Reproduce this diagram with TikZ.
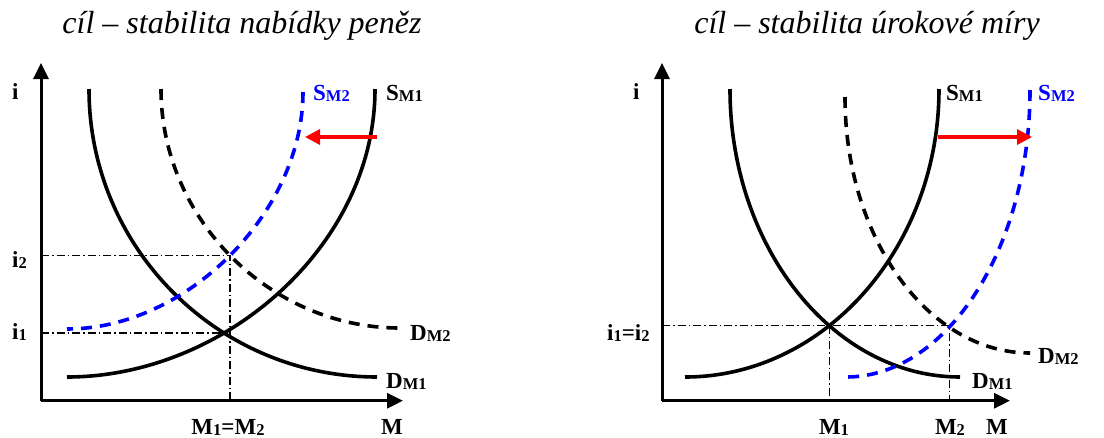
\documentclass[tikz,border=0pt]{standalone}
\usepackage{fontspec}
\setmainfont{Liberation Serif}
\usetikzlibrary{arrows.meta,intersections}
\newcommand\lbl[2]{\fontsize{23}{23}\selectfont\bfseries #1\raisebox{-1.5pt}{\fontsize{16.5}{16.5}\selectfont #2}}
\tikzset{
  axis/.style={line width=3pt,-{Triangle[length=16pt,width=15pt]}},
  solidc/.style={line width=3.6pt},
  dashc/.style={line width=3.6pt,dash pattern=on 11pt off 8pt},
  bluec/.style={line width=3.6pt,dash pattern=on 11pt off 8pt,blue},
  guide/.style={line width=1.1pt,dash pattern=on 8pt off 3pt on 1.5pt off 3pt},
  redarrow/.style={line width=3.4pt,red,-{Triangle[length=15pt,width=15pt]}},
  lab/.style={inner sep=0pt,anchor=base west},
  labc/.style={inner sep=0pt,anchor=base},
  ttl/.style={inner sep=0pt,anchor=base,font=\fontsize{32}{32}\selectfont\itshape}
}
\begin{document}
\begin{tikzpicture}[x=1pt,y=-1pt]
\useasboundingbox (0,0) rectangle (1104,437);
% titles
\node[ttl] (t1) at (242,33) {cíl – stabilita nabídky peněz};
\node[ttl] (t2) at (867,33) {cíl – stabilita úrokové míry};
% ===== left panel =====
\coordinate (o1) at (41,400.7);
\coordinate (yt1) at (41,63);
\coordinate (xt1) at (403,400.7);
\path[name path=lS1] (67,377) .. controls (224,377) and (375,246) .. (375,89);
\path[name path=lD1] (89,89) .. controls (89,248) and (218,377) .. (377,377);
\path[name path=lD2] (161,89) .. controls (161,219) and (270,328) .. (400,328);
\path[name path=lS2] (67,329) .. controls (187,329) and (303,212) .. (303,92);
\path[name intersections={of=lS1 and lD1}] coordinate (L1) at (intersection-1);
\path[name intersections={of=lS2 and lD2}] coordinate (L2) at (intersection-1);
\draw[guide] (o1 |- L2) -- (L2) -- (L2 |- o1);
\draw[guide] (o1 |- L1) -- (L1);
\draw[solidc] (67,377) .. controls (224,377) and (375,246) .. (375,89);
\draw[solidc] (89,89) .. controls (89,248) and (218,377) .. (377,377);
\draw[dashc] (161,89) .. controls (161,219) and (270,328) .. (400,328);
\draw[bluec] (303,92) .. controls (303,212) and (187,329) .. (67,329);
\draw[axis] (o1) -- (yt1);
\draw[axis] (o1) -- (xt1);
\coordinate (ra1) at (377,137);
\coordinate (rb1) at (305,137);
\draw[redarrow] (ra1) -- (rb1);
\node[lab] (li) at (12,99) {\lbl{i}{}};
\node[lab] (li2) at (12,267) {\lbl{i}{2}};
\node[lab] (li1) at (12,339) {\lbl{i}{1}};
\node[lab] (ls1) at (386,100) {\lbl{S}{M1}};
\node[lab,blue] (ls2) at (313,100) {\lbl{S}{M2}};
\node[lab] (ld2) at (410,340) {\lbl{D}{M2}};
\node[lab] (ld1) at (386,388) {\lbl{D}{M1}};
\node[labc] (lm12) at (228,434) {\lbl{M}{1}\lbl{=M}{2}};
\node[labc] (lm) at (392,434) {\lbl{M}{}};
% ===== right panel =====
\coordinate (o2) at (662,400.7);
\coordinate (yt2) at (662,63);
\coordinate (xt2) at (1010,400.7);
\path[name path=rD1] (730,89) .. controls (730,247) and (833,377) .. (960,377);
\path[name path=rS1] (685,377) .. controls (825,377) and (939,247) .. (939,89);
\path[name path=rD2] (845,97) .. controls (845,238) and (928,353) .. (1030,353);
\path[name path=rS2] (846,377) .. controls (947,377) and (1030,248) .. (1030,90);
\path[name intersections={of=rS1 and rD1}] coordinate (R1) at (intersection-1);
\path[name intersections={of=rS2 and rD2}] coordinate (R2) at (intersection-1);
\draw[guide] (o2 |- R1) -- (R2 |- R1) -- (R2 |- o2);
\draw[guide] (R1) -- (R1 |- o2);
\draw[solidc] (730,89) .. controls (730,247) and (833,377) .. (960,377);
\draw[solidc] (685,377) .. controls (825,377) and (939,247) .. (939,89);
\draw[dashc] (845,97) .. controls (845,238) and (928,353) .. (1030,353);
\draw[bluec] (1030,90) .. controls (1030,248) and (947,377) .. (846,377);
\draw[axis] (o2) -- (yt2);
\draw[axis] (o2) -- (xt2);
\coordinate (ra2) at (938,137);
\coordinate (rb2) at (1032,137);
\draw[redarrow] (ra2) -- (rb2);
\node[lab] (ri) at (633,99) {\lbl{i}{}};
\node[lab] (ri12) at (607,340) {\lbl{i}{1}\lbl{=i}{2}};
\node[lab] (rs1) at (946,100) {\lbl{S}{M1}};
\node[lab,blue] (rs2) at (1038,100) {\lbl{S}{M2}};
\node[lab] (rd2) at (1038,363) {\lbl{D}{M2}};
\node[lab] (rd1) at (972,388) {\lbl{D}{M1}};
\node[labc] (rm1) at (834,434) {\lbl{M}{1}};
\node[labc] (rm2) at (950,434) {\lbl{M}{2}};
\node[labc] (rm) at (997,434) {\lbl{M}{}};
\end{tikzpicture}
\end{document}
